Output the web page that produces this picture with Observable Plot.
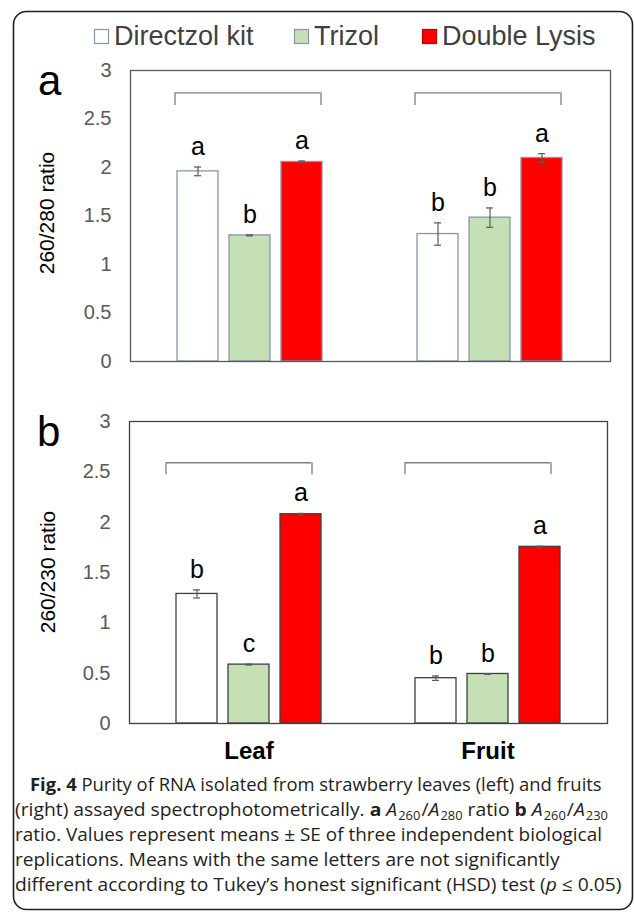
<!DOCTYPE html>
<html><head><meta charset="utf-8">
<script src="https://cdn.jsdelivr.net/npm/d3@7"></script>
<script src="https://cdn.jsdelivr.net/npm/@observablehq/plot@0.6"></script>
<style>
body{margin:0;background:#fff;}
#root{position:relative;width:634px;height:912px;overflow:hidden;background:#fff;}
#root > svg, #root > div{position:absolute;left:0;}
</style></head><body><div id="root"></div>
<script>
const FONT = "'Liberation Sans', Arial, sans-serif";
const methods = ["Directzol kit", "Trizol", "Double Lysis"];
const tissues = ["Leaf", "Fruit"];
const fills = ["#ffffff", "#c5e0b4", "#ff0000"];
const yTicks = [0, 0.5, 1, 1.5, 2, 2.5, 3];

// Panel a: A260/A280
const a_leafMean = [1.96, 1.30, 2.057];
const a_leafSE = [0.045, 0.005, 0.010];
const a_leafLetters = ["a", "b", "a"];
const a_fruitMean = [1.314, 1.483, 2.098];
const a_fruitSE = [0.115, 0.100, 0.045];
const a_fruitLetters = ["b", "b", "a"];
const a_bracketTop = [2.77, 2.77];
const a_bracketEnd = [2.64, 2.64];

// Panel b: A260/A230
const b_leafMean = [1.287, 0.585, 2.079];
const b_leafSE = [0.040, 0.004, 0.008];
const b_leafLetters = ["b", "c", "a"];
const b_fruitMean = [0.450, 0.492, 1.755];
const b_fruitSE = [0.022, 0.003, 0.006];
const b_fruitLetters = ["b", "b", "a"];
const b_bracketTop = [2.59, 2.59];
const b_bracketEnd = [2.47, 2.47];

function makeRows(lm, ls, ll, fm, fs, fl) {
  const out = [];
  tissues.forEach((t, ti) => methods.forEach((m, mi) => {
    out.push({tissue: t, method: m,
      mean: (ti ? fm : lm)[mi], se: (ti ? fs : ls)[mi], letter: (ti ? fl : ll)[mi]});
  }));
  return out;
}
function makeBrackets(top, end) {
  return tissues.map((t, i) => ({tissue: t, top: top[i], end: end[i]}));
}

function panel(data, brackets, cfg) {
  const marks = [
    Plot.barY(data, {fx: "tissue", x: "method", y: "mean", fill: "method",
      stroke: cfg.barStroke, strokeWidth: 1.3}),
    Plot.ruleX(data, {fx: "tissue", x: "method", y1: d => d.mean - d.se, y2: d => d.mean + d.se,
      stroke: "#595959", strokeWidth: 1.2}),
    Plot.ruleY(data, {fx: "tissue", x1: "method", x2: "method", y: d => d.mean + d.se,
      insetLeft: 17, insetRight: 17, stroke: "#595959", strokeWidth: 1.2}),
    Plot.ruleY(data, {fx: "tissue", x1: "method", x2: "method", y: d => d.mean - d.se,
      insetLeft: 17, insetRight: 17, stroke: "#595959", strokeWidth: 1.2}),
    Plot.text(data, {fx: "tissue", x: "method", y: d => d.mean + d.se, text: "letter",
      lineAnchor: "bottom", dy: -12, fontSize: 25, fill: "#000"}),
    Plot.ruleY(brackets, {fx: "tissue", x1: () => methods[0], x2: () => methods[2], y: "top",
      dx: cfg.bdx, stroke: "#7f7f7f", strokeWidth: 1.3}),
    Plot.ruleX(brackets, {fx: "tissue", x: () => methods[0], y1: "end", y2: "top",
      dx: cfg.bdx - 21, stroke: "#7f7f7f", strokeWidth: 1.3}),
    Plot.ruleX(brackets, {fx: "tissue", x: () => methods[2], y1: "end", y2: "top",
      dx: cfg.bdx + 21, stroke: "#7f7f7f", strokeWidth: 1.3}),
    Plot.axisY({ticks: yTicks, tickFormat: d => String(d), tickSize: 0, tickPadding: 19,
      fontSize: 20, color: "#595959", label: null}),
    Plot.frame({stroke: cfg.frameColor, strokeWidth: 1.3, facet: "super"})
  ];
  if (cfg.fxAxis) marks.push(Plot.axisFx({anchor: "bottom", tickSize: 0, tickPadding: 18,
    fontSize: 24, fontWeight: "bold", label: null, color: "#000"}));
  return Plot.plot({
    width: 634, height: cfg.height,
    marginLeft: 129, marginRight: cfg.marginRight, marginTop: cfg.marginTop, marginBottom: cfg.marginBottom,
    style: {fontFamily: FONT, background: "transparent", overflow: "visible"},
    fx: {domain: tissues, padding: 0, axis: null},
    x: {domain: methods, paddingInner: 0.2075, paddingOuter: 0.8736, axis: null},
    y: {domain: [0, 3]},
    color: {domain: methods, range: fills},
    marks
  });
}

const root = document.getElementById("root");
const pa = panel(makeRows(a_leafMean, a_leafSE, a_leafLetters, a_fruitMean, a_fruitSE, a_fruitLetters),
  makeBrackets(a_bracketTop, a_bracketEnd),
  {height: 316, marginTop: 15, marginBottom: 10, marginRight: 24, barStroke: "#8497b0", frameColor: "#595959", bdx: -2, fxAxis: false});
pa.style.top = "55px";
root.appendChild(pa);
const pb = panel(makeRows(b_leafMean, b_leafSE, b_leafLetters, b_fruitMean, b_fruitSE, b_fruitLetters),
  makeBrackets(b_bracketTop, b_bracketEnd),
  {height: 363, marginTop: 16, marginBottom: 45, marginRight: 27, barStroke: "#404040", frameColor: "#404040", bdx: -10, fxAxis: true});
pb.style.top = "405px";
root.appendChild(pb);

// Overlay: legend, panel letters, y-axis titles, caption, outer frame
const legendX = [94, 294, 422];
const legendStroke = ["#8497b0", "#8497b0", "#c00000"];
const ns = "http://www.w3.org/2000/svg";
const ov = document.createElementNS(ns, "svg");
ov.setAttribute("width", 634); ov.setAttribute("height", 912);
ov.style.top = "0px";
let s = `<rect x="13.5" y="11.5" width="619" height="898" rx="13" fill="none" stroke="#231f20" stroke-width="1.6"/>`;
methods.forEach((m, i) => {
  s += `<rect x="${legendX[i] + 0.5}" y="29.5" width="14" height="14" fill="${fills[i]}" stroke="${legendStroke[i]}" stroke-width="1.2"/>`;
  s += `<text x="${legendX[i] + 20}" y="44.5" font-family="${FONT}" font-size="27" fill="#404040">${m}</text>`;
});
s += `<text x="38" y="95" font-family="${FONT}" font-size="42" fill="#000">a</text>`;
s += `<text x="37" y="446" font-family="${FONT}" font-size="42" fill="#000">b</text>`;
s += `<text transform="translate(54,213) rotate(-90)" text-anchor="middle" font-family="${FONT}" font-size="21" fill="#000">260/280 ratio</text>`;
s += `<text transform="translate(55,572) rotate(-90)" text-anchor="middle" font-family="${FONT}" font-size="21" fill="#000">260/230 ratio</text>`;
const CF = "'Open Sans', 'Noto Sans', sans-serif";
const A = (n) => `<tspan font-style="italic">A</tspan><tspan font-size="12" dx="1" baseline-shift="-4">${n}</tspan>`;
const capLines = [
  {x: 30, y: 791, w: 572, html: `<tspan font-weight="bold">Fig. 4</tspan> Purity of RNA isolated from strawberry leaves (left) and fruits`},
  {x: 15, y: 816, w: 587, html: `(right) assayed spectrophotometrically. <tspan font-weight="bold">a</tspan> ${A("260")}<tspan dx="1">/</tspan>${A("280")} ratio <tspan font-weight="bold">b</tspan> ${A("260")}<tspan dx="1">/</tspan>${A("230")}`},
  {x: 15, y: 841, w: 587, html: `ratio. Values represent means ± SE of three independent biological`},
  {x: 15, y: 866, w: 545, html: `replications. Means with the same letters are not significantly`},
  {x: 15, y: 891, w: 607, html: `different according to Tukey’s honest significant (HSD) test (<tspan font-style="italic">p</tspan> ≤ 0.05)`}
];
capLines.forEach((l, i) => {
  s += `<text id="cap${i}" font-family="${CF}" font-size="18" fill="#231f20">${l.html}</text>`;
});
ov.innerHTML = s;
root.appendChild(ov);
capLines.forEach((l, i) => {
  const t = ov.querySelector("#cap" + i);
  const len = t.getComputedTextLength();
  t.setAttribute("transform", `translate(${l.x},${l.y}) scale(${l.w / len},1)`);
});
</script>
</body></html>
